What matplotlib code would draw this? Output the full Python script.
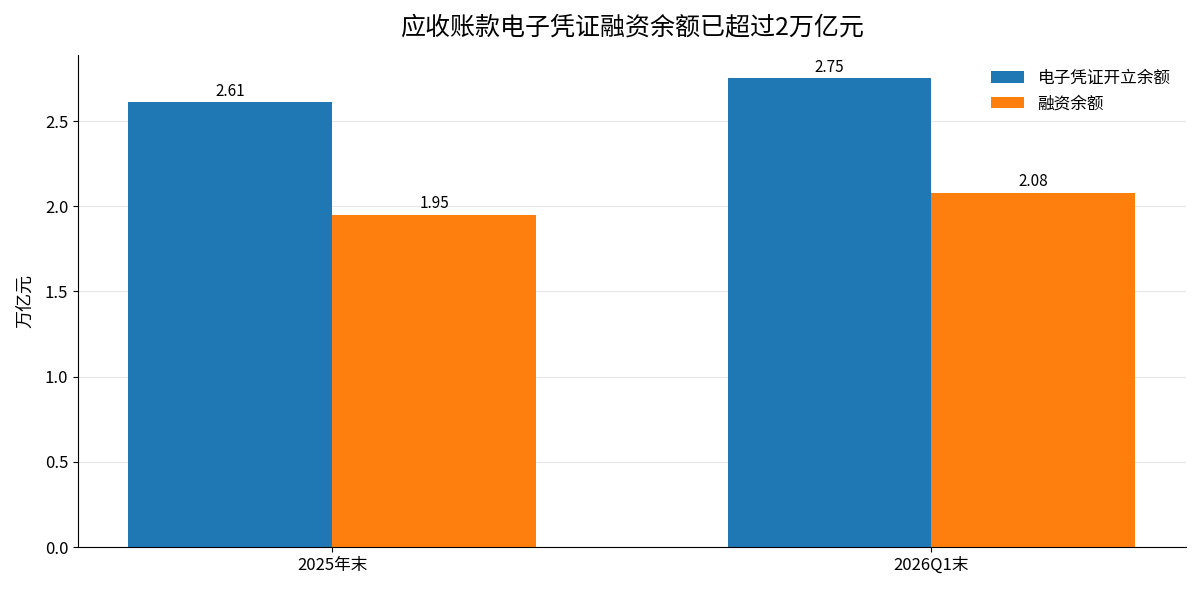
import matplotlib
matplotlib.use("Agg")
import matplotlib.pyplot as plt
import numpy as np

plt.rcParams["font.family"] = ["Noto Sans CJK SC", "DejaVu Sans"]

periods = ["2025年末", "2026Q1末"]
issued = [2.61, 2.75]
financed = [1.95, 2.08]
series_names = ["电子凭证开立余额", "融资余额"]

x = np.arange(len(periods))
w = 0.34

fig, ax = plt.subplots(figsize=(12, 5.92), dpi=100)
fig.subplots_adjust(left=0.065, right=0.988, bottom=0.076, top=0.907)
b1 = ax.bar(x - w / 2, issued, w, color="#1f77b4", label=series_names[0])
b2 = ax.bar(x + w / 2, financed, w, color="#ff7f0e", label=series_names[1])
ax.bar_label(b1, labels=[f"{v:.2f}" for v in issued], padding=2, fontsize=11)
ax.bar_label(b2, labels=[f"{v:.2f}" for v in financed], padding=2, fontsize=11)

ax.set_xticks(x)
ax.set_xticklabels(periods, fontsize=12)
ax.tick_params(axis="y", labelsize=12)
ax.set_ylim(0, max(issued) * 1.05)
ax.set_ylabel("万亿元", fontsize=13, labelpad=8)
ax.set_title("应收账款电子凭证融资余额已超过2万亿元", fontsize=18, pad=14)
ax.grid(axis="y", alpha=0.3)
ax.set_axisbelow(True)
ax.spines["top"].set_visible(False)
ax.spines["right"].set_visible(False)
ax.legend(frameon=False, fontsize=12, loc="upper right")
fig.savefig("out.png", dpi=100)
